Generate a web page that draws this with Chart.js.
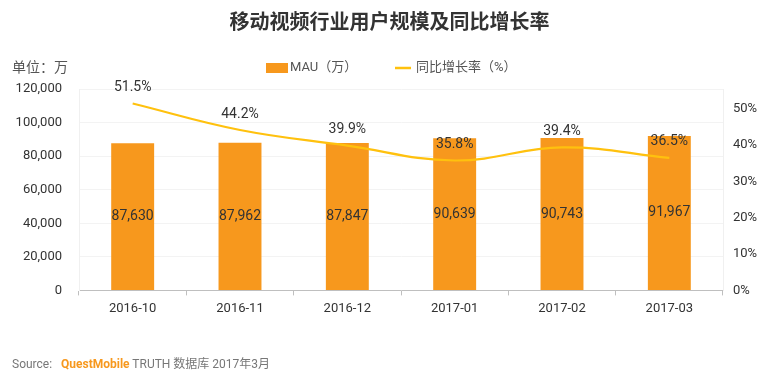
<!DOCTYPE html>
<html><head><meta charset="utf-8">
<script src="https://cdn.jsdelivr.net/npm/chart.js@4/dist/chart.umd.min.js"></script>
<style>
html,body{margin:0;padding:0;background:#fff;}
#wrap{position:relative;width:779px;height:381px;}
#src{position:absolute;left:12px;top:354px;font:12px "Roboto","Noto Sans CJK SC",sans-serif;color:#777;white-space:nowrap;}
#src b{color:#F7981D;font-weight:bold;}
</style></head>
<body><div id="wrap"><canvas id="c" width="779" height="381"></canvas>
<div id="src">Source:&nbsp;&nbsp; <b>QuestMobile</b> TRUTH 数据库 2017年3月</div></div>
<script>
const categories = ['2016-10','2016-11','2016-12','2017-01','2017-02','2017-03'];
const mau = [87630, 87962, 87847, 90639, 90743, 91967];
const growth = [51.5, 44.2, 39.9, 35.8, 39.4, 36.5];
const leftTicks = [0, 20000, 40000, 60000, 80000, 100000, 120000];
const rightTicks = [0, 10, 20, 30, 40, 50];

const FONT = '"Roboto","Noto Sans CJK SC",sans-serif';
const BAR = '#F7981D', LINE = '#FFC10E', TXT = '#333333';

const extras = {
  id: 'extras',
  afterDatasetsDraw(chart) {
    const ctx = chart.ctx;
    ctx.save();
    ctx.textAlign = 'center';
    ctx.textBaseline = 'middle';
    ctx.fillStyle = TXT;
    ctx.font = '14px ' + FONT;
    chart.getDatasetMeta(0).data.forEach((b, i) => {
      ctx.fillText(mau[i].toLocaleString('en-US'), b.x, (b.y + b.base) / 2);
    });
    chart.getDatasetMeta(1).data.forEach((p, i) => {
      ctx.fillText(growth[i].toFixed(1) + '%', p.x, p.y - 16);
    });
    // unit label
    ctx.textAlign = 'left';
    ctx.fillStyle = '#555';
    ctx.fillText('单位：万', 12, 68);
    // legend
    const ds = chart.data.datasets;
    ctx.font = '13px ' + FONT;
    ctx.fillStyle = ds[0].backgroundColor;
    ctx.fillRect(266, 63, 22, 10);
    ctx.fillStyle = '#555';
    ctx.fillText(ds[0].label, 290, 68);
    ctx.strokeStyle = ds[1].borderColor;
    ctx.lineWidth = 2.5;
    ctx.beginPath(); ctx.moveTo(395, 68); ctx.lineTo(411, 68); ctx.stroke();
    ctx.fillText(ds[1].label, 416, 68);
    ctx.restore();
  }
};

new Chart(document.getElementById('c'), {
  data: {
    labels: categories,
    datasets: [
      { type: 'bar', label: 'MAU（万）', data: mau, backgroundColor: BAR, borderWidth: 0,
        barPercentage: 0.4, categoryPercentage: 1, yAxisID: 'y', order: 2 },
      { type: 'line', label: '同比增长率（%）', data: growth, borderColor: LINE, backgroundColor: LINE,
        borderWidth: 2.2, tension: 0.4, pointRadius: 0, yAxisID: 'y1', order: 1 }
    ]
  },
  options: {
    responsive: false, animation: false,
    layout: { padding: { left: 0, right: 0, top: 0, bottom: 58 } },
    plugins: {
      title: { display: true, text: '移动视频行业用户规模及同比增长率', color: TXT,
        font: { family: FONT, size: 20, weight: 'bold' }, padding: { top: 12, bottom: 53 } },
      legend: { display: false },
      tooltip: { enabled: false }
    },
    scales: {
      x: { offset: true,
        grid: { offset: true, drawOnChartArea: false, drawTicks: true, tickLength: 5, color: '#bfbfbf' },
        border: { color: '#bfbfbf' },
        ticks: { color: TXT, font: { family: FONT, size: 13 }, padding: 6 } },
      y: { position: 'left', min: 0, max: 120000,
        afterBuildTicks(s) { s.ticks = leftTicks.map(v => ({ value: v })); },
        afterFit(s) { s.width = 79; },
        grid: { color: '#f3f3f3', drawTicks: false },
        border: { color: '#f0f0f0' },
        ticks: { color: TXT, font: { family: FONT, size: 13 }, padding: 17,
          callback: v => v.toLocaleString('en-US') } },
      y1: { position: 'right', min: 0, max: 55.5,
        afterBuildTicks(s) { s.ticks = rightTicks.map(v => ({ value: v })); },
        afterFit(s) { s.width = 56; },
        grid: { drawOnChartArea: false, drawTicks: false },
        border: { color: '#f0f0f0' },
        ticks: { color: TXT, font: { family: FONT, size: 13 }, padding: 10, callback: v => v + '%' } }
    }
  },
  plugins: [extras]
});
</script></body></html>
